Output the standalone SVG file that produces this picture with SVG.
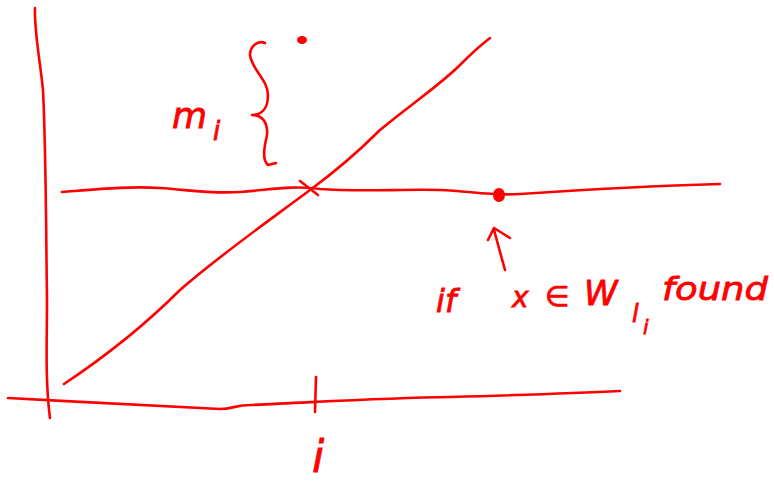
<svg xmlns="http://www.w3.org/2000/svg" width="774" height="481" viewBox="0 0 774 481">
<style>
.s{fill:none;stroke:#f00;stroke-width:2.6;stroke-linecap:round;stroke-linejoin:round}
.t{fill:#f00;stroke:#f00;stroke-width:0.8;font-family:"DejaVu Sans","Liberation Sans",sans-serif;font-style:italic}
</style>
<rect width="774" height="481" fill="#fff"/>
<g id="axes">
<path class="s" d="M35,8 C34,30 40,60 43,90 C46,150 46,230 47,300 C47,340 45,380 50,418"/>
<path class="s" d="M8,398 C80,402 160,406 220,409 C232,409 236,405 250,405 C320,402 380,398 450,397 C520,395 580,393 620,391"/>
<path class="s" d="M316,377 L315,412"/>
</g>
<g id="connectors">
<path class="s" d="M62,192 C100,189 130,186 160,188 C190,190 210,194 240,192 C270,190 290,185 320,189 C360,192 400,189 440,190 C470,191 490,196 520,194 C580,190 650,186 720,184"/>
<path class="s" d="M64,384 C100,360 140,330 180,290 C220,255 270,220 310,190 C340,168 360,150 380,130 C410,105 440,85 460,65 C475,50 482,44 490,38"/>
<path class="s" d="M300,181 L318,195"/>
<path class="s" d="M505,270 L494,230 M488,240 L494,228 L510,238"/>
<path class="s" d="M265,43 C258,40 250,46 250,55 C252,70 268,80 268,95 C268,108 262,115 252,115 C262,115 268,122 267,135 C264,148 262,160 268,165 L276,163"/>
</g>
<g id="dots">
<ellipse cx="302" cy="40" rx="5" ry="4" fill="#f00"/>
<ellipse cx="499" cy="195" rx="5" ry="6" fill="#f00" stroke="#f00" stroke-width="2"/>
</g>
<g id="labels">
<text class="t" x="172" y="128" font-size="36">m</text>
<text class="t" x="213" y="140" font-size="26">i</text>
<text class="t" x="312" y="472" font-size="44">i</text>
<text class="t" x="436" y="312" font-size="32">if</text>
<text class="t" x="512" y="307" font-size="28">x</text>
<text class="t" x="545" y="306" font-size="28">∈</text>
<text class="t" x="584" y="305" font-size="34">W</text>
<text class="t" x="632" y="322" font-size="24">l</text>
<text class="t" x="643" y="334" font-size="20">i</text>
<text class="t" x="662" y="300" font-size="32" textLength="106" lengthAdjust="spacingAndGlyphs">found</text>
</g>
</svg>
